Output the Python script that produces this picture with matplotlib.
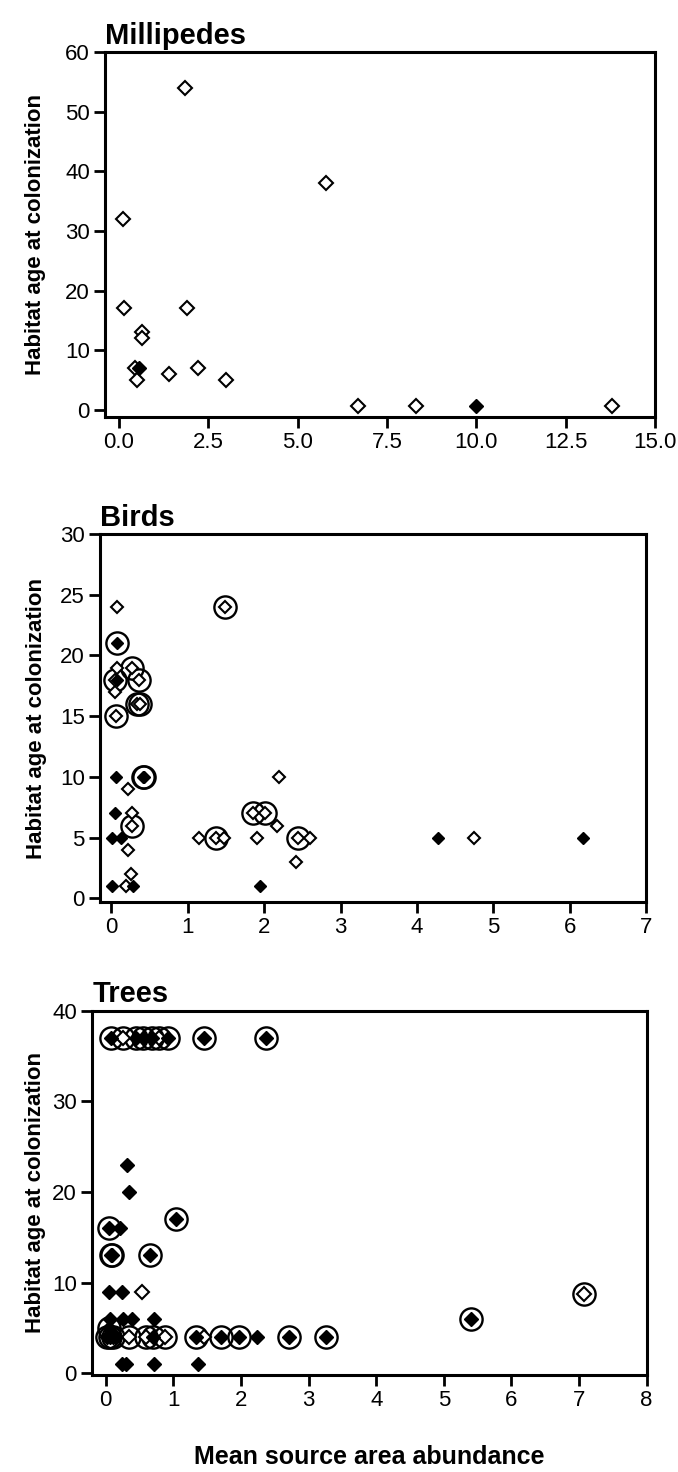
import matplotlib
matplotlib.use("Agg")
import matplotlib.pyplot as plt
import numpy as np

plt.rcParams['font.family'] = ['Liberation Sans Narrow', 'Liberation Sans', 'DejaVu Sans']

# Millipedes: source abundance, habitat age, filled = solid diamond
mill_x = [1.85, 5.8, 0.1, 0.15, 1.9, 0.65, 0.65, 0.45, 0.55, 0.5, 1.4, 2.2, 3.0,
          6.7, 8.3, 10.0, 13.8]
mill_y = [54, 38, 32, 17, 17, 13, 12, 7, 7, 5, 6, 7, 5,
          0.6, 0.6, 0.6, 0.6]
mill_filled = [0, 0, 0, 0, 0, 0, 0, 0, 1, 0, 0, 0, 0,
               0, 0, 1, 0]

# Birds: circled = ringed symbol
bird_x = [0.07, 1.49, 0.07, 0.07, 0.27, 0.04, 0.07, 0.36, 0.05, 0.33, 0.37, 0.06,
          0.06, 0.41, 0.43, 0.22, 0.04, 0.27, 0.27, 0.01, 0.12, 0.22, 0.26, 0.01,
          0.19, 0.28, 1.15, 1.37, 1.47, 1.90, 1.94, 2.19, 1.85, 2.01, 2.17, 2.44,
          2.60, 2.42, 4.27, 4.75, 6.17]
bird_y = [24, 24, 21, 19, 19, 18, 18, 18, 17, 16, 16, 15,
          10, 10, 10, 9, 7, 7, 6, 5, 5, 4, 2, 1,
          1, 1, 5, 5, 5, 5, 1, 10, 7, 7, 6, 5,
          5, 3, 5, 5, 5]
bird_filled = [0, 0, 1, 0, 0, 0, 1, 0, 0, 0, 0, 0,
               1, 1, 1, 0, 1, 0, 0, 1, 1, 0, 0, 1,
               0, 1, 0, 0, 0, 0, 1, 0, 0, 0, 0, 0,
               0, 0, 1, 0, 1]
bird_circled = [0, 1, 1, 0, 1, 1, 0, 1, 0, 1, 1, 1,
                0, 1, 1, 0, 0, 0, 1, 0, 0, 0, 0, 0,
                0, 0, 0, 1, 0, 0, 0, 0, 1, 1, 0, 1,
                0, 0, 0, 0, 0]

# Trees
tree_x = [0.07, 0.25, 0.45, 0.55, 0.68, 0.78, 0.92, 1.45, 2.37,
          0.31, 0.34, 1.04, 0.05, 0.21, 0.07, 0.09, 0.66,
          0.05, 0.24, 0.54, 0.06, 0.25, 0.39, 0.71, 0.04,
          0.02, 0.06, 0.10, 0.15, 0.34, 0.60, 0.70, 0.88, 1.33, 1.45,
          1.70, 1.97, 2.24, 2.71, 3.25,
          0.24, 0.30, 0.72, 1.37, 5.4, 7.07]
tree_y = [37, 37, 37, 37, 37, 37, 37, 37, 37,
          23, 20, 17, 16, 16, 13, 13, 13,
          9, 9, 9, 6, 6, 6, 6, 5,
          4, 4, 4, 4, 4, 4, 4, 4, 4, 4,
          4, 4, 4, 4, 4,
          1, 1, 1, 1, 6, 8.7]
tree_filled = [1, 0, 1, 1, 1, 0, 1, 1, 1,
               1, 1, 1, 1, 1, 1, 1, 1,
               1, 1, 0, 1, 1, 1, 1, 1,
               1, 1, 1, 1, 0, 0, 1, 0, 1, 0,
               1, 1, 1, 1, 1,
               1, 1, 1, 1, 1, 0]
tree_circled = [1, 1, 1, 1, 1, 1, 1, 1, 1,
                0, 0, 1, 1, 0, 1, 1, 1,
                0, 0, 0, 0, 0, 0, 0, 1,
                1, 1, 1, 0, 1, 1, 1, 1, 1, 0,
                1, 1, 0, 1, 1,
                0, 0, 0, 0, 1, 1]

mill_xticks = [0.0, 2.5, 5.0, 7.5, 10.0, 12.5, 15.0]
bird_xticks = [0, 1, 2, 3, 4, 5, 6, 7]
tree_xticks = [0, 1, 2, 3, 4, 5, 6, 7, 8]

FIG_W, FIG_H = 678, 1472
YLABEL_X = 36  # pixels from the left edge, shared by all three panels


def draw_panel(ax, x, y, filled, circled, ms, title, xticks, xfmt, ylim, yticks, xlim):
    x = np.asarray(x, float)
    y = np.asarray(y, float)
    filled = np.asarray(filled, bool)
    circled = np.asarray(circled, bool)
    ax.plot(x[circled], y[circled], 'o', ms=16, mfc='none', mec='black', mew=1.7,
            ls='none', zorder=2)
    ax.plot(x[~filled], y[~filled], 'D', ms=ms, mfc='white', mec='black', mew=1.5,
            ls='none', zorder=3)
    ax.plot(x[filled], y[filled], 'D', ms=ms, mfc='black', mec='black', mew=1.0,
            ls='none', zorder=3)
    ax.set_xlim(*xlim)
    ax.set_ylim(*ylim)
    ax.set_xticks(xticks)
    ax.set_xticklabels([xfmt.format(t) for t in xticks])
    ax.set_yticks(yticks)
    ax.set_yticklabels([str(t) for t in yticks])
    for s in ax.spines.values():
        s.set_linewidth(2.2)
    ax.tick_params(direction='out', length=8, width=2, labelsize=16, pad=3)
    ax.set_title(title, loc='left', fontsize=21, fontweight='bold', pad=6)
    ax.set_ylabel('Habitat age at colonization', fontsize=16, fontweight='bold',
                  va='center')
    left, _, width, _ = ax.get_position().bounds
    ax.yaxis.set_label_coords((YLABEL_X / FIG_W - left) / width, 0.5)


fig = plt.figure(figsize=(FIG_W / 100, FIG_H / 100), dpi=100)

ax1 = fig.add_axes([0.155, 0.7167, 0.811, 0.248])
draw_panel(ax1, mill_x, mill_y, mill_filled, [0] * len(mill_x), 7.2, 'Millipedes',
           mill_xticks, '{:.1f}', (-1.2, 60), [0, 10, 20, 30, 40, 50, 60], (-0.39, 15.0))

ax2 = fig.add_axes([0.1475, 0.3872, 0.8053, 0.25])
draw_panel(ax2, bird_x, bird_y, bird_filled, bird_circled, 6.5, 'Birds',
           bird_xticks, '{:d}', (-0.3, 30), [0, 5, 10, 15, 20, 25, 30], (-0.15, 7))

ax3 = fig.add_axes([0.1361, 0.0659, 0.8177, 0.2475])
draw_panel(ax3, tree_x, tree_y, tree_filled, tree_circled, 7.2, 'Trees',
           tree_xticks, '{:d}', (-0.2, 40), [0, 10, 20, 30, 40], (-0.2, 8))
ax3.set_xlabel('Mean source area abundance', fontsize=18, fontweight='bold', labelpad=24)

fig.savefig('out.png', dpi=100)
